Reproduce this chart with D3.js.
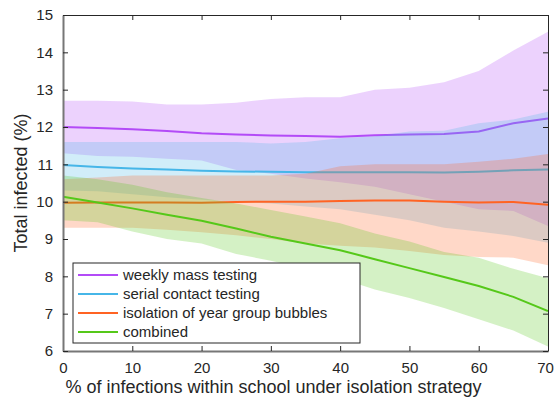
<!DOCTYPE html>
<html>
<head>
<meta charset="utf-8">
<script src="https://cdn.jsdelivr.net/npm/d3@7"></script>
<style>
  body { margin: 0; background: #fff; }
  text { font-family: "Liberation Sans", Arial, sans-serif; fill: #262626; }
</style>
</head>
<body>
<svg id="chart"></svg>
<script>
// % of infections within school (x) and total infected (%) per strategy
const xPct = [0, 5, 10, 15, 20, 25, 30, 35, 40, 45, 50, 55, 60, 65, 70];

const massMean = [12.0, 11.97, 11.94, 11.89, 11.83, 11.80, 11.77, 11.76, 11.74, 11.78, 11.80, 11.81, 11.88, 12.10, 12.23];
const massHigh = [12.7, 12.7, 12.68, 12.6, 12.6, 12.65, 12.75, 12.8, 12.8, 13.0, 13.05, 13.2, 13.5, 14.05, 14.55];
const massLow  = [11.3, 11.22, 11.2, 11.15, 11.1, 10.85, 10.75, 10.62, 10.52, 10.4, 10.2, 10.0, 9.8, 9.75, 9.35];

const contactMean = [10.98, 10.93, 10.89, 10.86, 10.83, 10.81, 10.80, 10.79, 10.79, 10.79, 10.79, 10.78, 10.80, 10.84, 10.86];
const contactHigh = [11.6, 11.6, 11.6, 11.6, 11.6, 11.6, 11.56, 11.6, 11.7, 11.75, 11.88, 11.9, 12.1, 12.2, 12.41];
const contactLow  = [10.3, 10.28, 10.2, 10.12, 10.05, 10.0, 9.95, 9.87, 9.8, 9.65, 9.5, 9.3, 9.2, 9.08, 8.9];

const bubbleMean = [9.97, 9.98, 9.98, 9.98, 9.97, 9.99, 10.0, 10.0, 10.02, 10.03, 10.03, 10.0, 9.98, 9.99, 9.92];
const bubbleHigh = [10.6, 10.65, 10.7, 10.7, 10.7, 10.7, 10.7, 10.75, 10.95, 11.0, 11.0, 11.0, 11.07, 11.15, 11.28];
const bubbleLow  = [9.3, 9.3, 9.3, 9.25, 9.18, 9.1, 9.0, 8.88, 8.82, 8.77, 8.68, 8.57, 8.52, 8.5, 8.3];

const combinedMean = [10.13, 9.98, 9.82, 9.65, 9.49, 9.28, 9.06, 8.88, 8.70, 8.46, 8.22, 7.98, 7.74, 7.45, 7.07];
const combinedHigh = [10.7, 10.6, 10.45, 10.25, 10.1, 9.95, 9.78, 9.6, 9.42, 9.15, 8.93, 8.65, 8.5, 8.2, 7.95];
const combinedLow  = [9.5, 9.45, 9.2, 9.0, 8.88, 8.6, 8.42, 8.2, 7.95, 7.65, 7.42, 7.15, 6.85, 6.55, 6.12];

const seriesNames = ["weekly mass testing", "serial contact testing", "isolation of year group bubbles", "combined"];
const xTicks = [0, 10, 20, 30, 40, 50, 60, 70];
const yTicks = [6, 7, 8, 9, 10, 11, 12, 13, 14, 15];

const series = [
  { name: seriesNames[0], mean: massMean, low: massLow, high: massHigh, color: "#b34bf7" },
  { name: seriesNames[1], mean: contactMean, low: contactLow, high: contactHigh, color: "#46b6e8" },
  { name: seriesNames[2], mean: bubbleMean, low: bubbleLow, high: bubbleHigh, color: "#ff6323" },
  { name: seriesNames[3], mean: combinedMean, low: combinedLow, high: combinedHigh, color: "#55c819" }
];

const width = 555, height = 402;
const margin = { top: 15, right: 7, bottom: 51, left: 63 };
const innerW = width - margin.left - margin.right;
const innerH = height - margin.top - margin.bottom;

const x = d3.scaleLinear().domain([0, 70]).range([0, innerW]);
const y = d3.scaleLinear().domain([6, 15]).range([innerH, 0]);

const svg = d3.select("#chart")
    .attr("width", width)
    .attr("height", height);

svg.append("defs").append("clipPath")
    .attr("id", "plotClip")
  .append("rect")
    .attr("width", innerW)
    .attr("height", innerH);

const g = svg.append("g")
    .attr("transform", `translate(${margin.left},${margin.top})`);

const plot = g.append("g").attr("clip-path", "url(#plotClip)");

const area = d3.area()
    .x(d => x(d[0]))
    .y0(d => y(d[1]))
    .y1(d => y(d[2]));

const line = d3.line()
    .x(d => x(d[0]))
    .y(d => y(d[1]));

// band then line per series, same order as the original draw
series.forEach(s => {
    plot.append("path")
        .datum(xPct.map((v, i) => [v, s.low[i], s.high[i]]))
        .attr("d", area)
        .attr("fill", s.color)
        .attr("fill-opacity", 0.25);

    plot.append("path")
        .datum(xPct.map((v, i) => [v, s.mean[i]]))
        .attr("d", line)
        .attr("fill", "none")
        .attr("stroke", s.color)
        .attr("stroke-width", 2);
});

// axes, MATLAB-style box with inward ticks
const xAxis = g.append("g")
    .attr("transform", `translate(0,${innerH})`)
    .call(d3.axisBottom(x).tickValues(xTicks).tickSizeInner(-5).tickSizeOuter(0).tickPadding(11));
const xTop = g.append("g")
    .call(d3.axisTop(x).tickValues(xTicks).tickSizeInner(-5).tickSizeOuter(0).tickFormat(""));
const yAxis = g.append("g")
    .call(d3.axisLeft(y).tickValues(yTicks).tickSizeInner(-5).tickSizeOuter(0).tickPadding(10));
const yRight = g.append("g")
    .attr("transform", `translate(${innerW},0)`)
    .call(d3.axisRight(y).tickValues(yTicks).tickSizeInner(-5).tickSizeOuter(0).tickFormat(""));

[xAxis, xTop, yAxis, yRight].forEach(a => {
    a.select(".domain").attr("stroke", "#262626");
    a.selectAll(".tick line").attr("stroke", "#262626");
    a.selectAll(".tick text")
        .attr("fill", "#262626")
        .style("font-size", "15px")
        .style("font-family", "'Liberation Sans', Arial, sans-serif");
});
xAxis.select(".domain").attr("stroke", "#777").attr("stroke-width", 2);
yAxis.select(".domain").attr("stroke", "#777").attr("stroke-width", 2);
// keep the last x tick label inside the page
xAxis.selectAll(".tick text").filter(d => d === 70).attr("dx", -3);

g.append("text")
    .attr("x", 273.5 - margin.left)
    .attr("y", innerH + 42)
    .attr("text-anchor", "middle")
    .style("font-size", "18px")
    .text("% of infections within school under isolation strategy");

g.append("text")
    .attr("transform", `translate(${27 - margin.left},${innerH / 2}) rotate(-90)`)
    .attr("text-anchor", "middle")
    .style("font-size", "18px")
    .text("Total infected (%)");

// legend
const legend = g.append("g")
    .attr("transform", `translate(${73 - margin.left},${263 - margin.top})`);

legend.append("rect")
    .attr("width", 287)
    .attr("height", 80)
    .attr("fill", "#fff")
    .attr("stroke", "#262626")
    .attr("stroke-width", 1);

const rows = legend.selectAll(".row")
    .data(series)
  .enter().append("g")
    .attr("class", "row")
    .attr("transform", (d, i) => `translate(0,${12 + i * 19})`);

rows.append("line")
    .attr("x1", 5)
    .attr("x2", 45)
    .attr("stroke", d => d.color)
    .attr("stroke-width", 2);

rows.append("text")
    .attr("x", 50)
    .attr("dy", "0.35em")
    .style("font-size", "15px")
    .text(d => d.name);
</script>
</body>
</html>
